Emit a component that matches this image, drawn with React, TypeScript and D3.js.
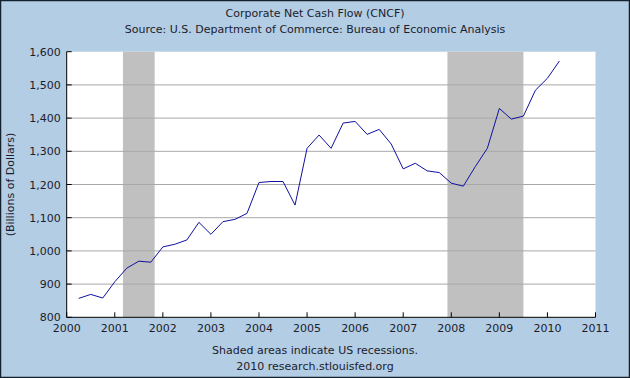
import React from "react";
import * as d3 from "d3";

const title = "Corporate Net Cash Flow (CNCF)";
const subtitle = "Source: U.S. Department of Commerce: Bureau of Economic Analysis";
const yAxisTitle = "(Billions of Dollars)";
const footer1 = "Shaded areas indicate US recessions.";
const footer2 = "2010 research.stlouisfed.org";

const dates: number[] = [
  2000.25, 2000.5, 2000.75, 2001.0, 2001.25, 2001.5, 2001.75, 2002.0, 2002.25, 2002.5, 2002.75,
  2003.0, 2003.25, 2003.5, 2003.75, 2004.0, 2004.25, 2004.5, 2004.75, 2005.0, 2005.25, 2005.5,
  2005.75, 2006.0, 2006.25, 2006.5, 2006.75, 2007.0, 2007.25, 2007.5, 2007.75, 2008.0, 2008.25,
  2008.5, 2008.75, 2009.0, 2009.25, 2009.5, 2009.75, 2010.0, 2010.25,
];
const values: number[] = [
  857, 869, 858, 907, 948, 969, 966, 1012, 1020, 1033, 1086,
  1050, 1088, 1095, 1113, 1206, 1209, 1209, 1138, 1309, 1349, 1309,
  1385, 1390, 1351, 1366, 1322, 1247, 1264, 1241, 1236, 1204, 1195,
  1254, 1309, 1429, 1397, 1406, 1484, 1520, 1572,
];
const recessionStarts: number[] = [2001.17, 2007.92];
const recessionEnds: number[] = [2001.83, 2009.5];
const xTicks: number[] = [2000, 2001, 2002, 2003, 2004, 2005, 2006, 2007, 2008, 2009, 2010, 2011];
const yTicks: number[] = [800, 900, 1000, 1100, 1200, 1300, 1400, 1500, 1600];

const W = 630;
const H = 378;
const left = 66.7;
const right = 595.5;
const top = 51.7;
const bottom = 317.3;
const font = "'DejaVu Sans', Verdana, sans-serif";
const textColor = "#1c1c2c";

export default function App() {
  const x = d3.scaleLinear().domain([2000, 2011]).range([left, right]);
  const y = d3.scaleLinear().domain([800, 1600]).range([bottom, top]);
  const line = d3
    .line<number>()
    .x((_, i) => x(dates[i]))
    .y((v) => y(v));
  const fmt = d3.format(",");

  return (
    <svg
      width={W}
      height={H}
      style={{ position: "absolute", left: 0, top: 0, display: "block" }}
    >
      <rect x={0.5} y={0.5} width={W - 1} height={H - 1} fill="#b3cde4" stroke="#14202c" strokeWidth={1.5} />
      <rect x={left} y={top} width={right - left} height={bottom - top} fill="#ffffff" />
      {recessionStarts.map((s, i) => (
        <rect
          key={"r" + i}
          x={x(s)}
          y={top}
          width={x(recessionEnds[i]) - x(s)}
          height={bottom - top}
          fill="#c0c0c0"
        />
      ))}
      {yTicks.slice(1, -1).map((t) => (
        <line key={"g" + t} x1={left} x2={right} y1={y(t)} y2={y(t)} stroke="#a8a8a8" strokeWidth={1} />
      ))}
      {yTicks.map((t) => (
        <g key={"yt" + t}>
          <line x1={left} x2={left + 5} y1={y(t)} y2={y(t)} stroke="#000" strokeWidth={1} />
          <text x={left - 6} y={y(t) + 4} textAnchor="end" fontFamily={font} fontSize={11} fill={textColor}>
            {fmt(t)}
          </text>
        </g>
      ))}
      {xTicks.map((t) => (
        <g key={"xt" + t}>
          <line x1={x(t)} x2={x(t)} y1={bottom} y2={bottom - 5} stroke="#000" strokeWidth={1} />
          <text x={x(t)} y={bottom + 15} textAnchor="middle" fontFamily={font} fontSize={11} fill={textColor}>
            {t}
          </text>
        </g>
      ))}
      <line x1={left} x2={left} y1={top} y2={bottom} stroke="#000" strokeWidth={1} />
      <line x1={left} x2={right} y1={bottom} y2={bottom} stroke="#000" strokeWidth={1} />
      <path d={line(values) || ""} fill="none" stroke="#1010a0" strokeWidth={1} />
      <text x={315} y={17} textAnchor="middle" fontFamily={font} fontSize={11} fill={textColor}>
        {title}
      </text>
      <text x={315} y={33} textAnchor="middle" fontFamily={font} fontSize={11} fill={textColor}>
        {subtitle}
      </text>
      <text
        transform={`translate(14,${(top + bottom) / 2}) rotate(-90)`}
        textAnchor="middle"
        fontFamily={font}
        fontSize={11}
        fill={textColor}
      >
        {yAxisTitle}
      </text>
      <text x={315} y={354} textAnchor="middle" fontFamily={font} fontSize={11} fill={textColor}>
        {footer1}
      </text>
      <text x={315} y={370} textAnchor="middle" fontFamily={font} fontSize={11} fill={textColor}>
        {footer2}
      </text>
    </svg>
  );
}
